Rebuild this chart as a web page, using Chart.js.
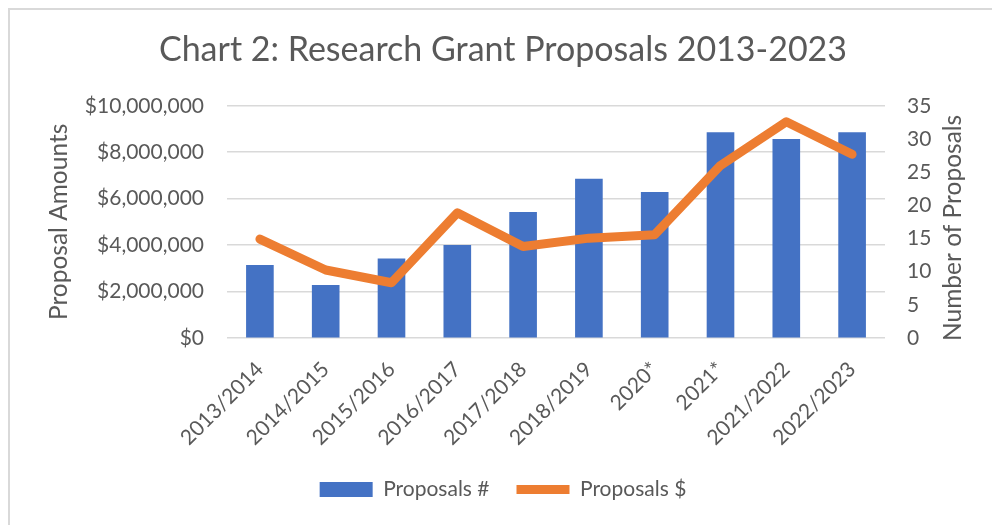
<!DOCTYPE html>
<html>
<head>
<meta charset="utf-8">
<script src="https://cdn.jsdelivr.net/npm/chart.js@4"></script>
<style>
  html, body { margin: 0; padding: 0; background: #ffffff; }
  #wrap { position: relative; width: 992px; height: 525px; overflow: hidden; }
  #frame { position: absolute; left: 8px; top: 8px; width: 1100px; height: 600px;
           border-left: 2px solid #d9d9d9; border-top: 2px solid #d9d9d9; }
  canvas { position: absolute; left: 0; top: 0; }
</style>
</head>
<body>
<div id="wrap">
  <div id="frame"></div>
  <canvas id="c" width="992" height="525"></canvas>
</div>
<script>
const categories = ["2013/2014", "2014/2015", "2015/2016", "2016/2017", "2017/2018", "2018/2019", "2020*", "2021*", "2021/2022", "2022/2023"];
const proposalCounts = [11, 8, 12, 14, 19, 24, 22, 31, 30, 31];
const proposalAmounts = [4260000, 2930000, 2380000, 5390000, 3940000, 4300000, 4450000, 7430000, 9310000, 7910000];
const chartTitle = "Chart 2: Research Grant Proposals 2013-2023";
const leftAxisTitle = "Proposal Amounts";
const rightAxisTitle = "Number of Proposals";

const TXT = '#595959';
const FONT = 'Lato';

// Right axis title reads bottom-to-top, like the left one
const rightTitlePlugin = {
  id: 'rightTitle',
  afterDraw(chart) {
    const ctx = chart.ctx;
    const s = chart.scales.yR;
    ctx.save();
    ctx.fillStyle = TXT;
    ctx.font = '24.5px ' + FONT;
    ctx.textAlign = 'center';
    ctx.textBaseline = 'middle';
    ctx.translate(s.right - 13, (s.top + s.bottom) / 2 + 6);
    ctx.rotate(-Math.PI / 2);
    ctx.fillText(rightAxisTitle, 0, 0);
    ctx.restore();
  }
};

new Chart(document.getElementById('c'), {
  data: {
    labels: categories,
    datasets: [
      {
        type: 'bar',
        label: 'Proposals #',
        data: proposalCounts,
        yAxisID: 'yR',
        backgroundColor: '#4472C4',
        borderWidth: 0,
        barPercentage: 0.42,
        categoryPercentage: 1.0,
        order: 1,
        pointStyle: 'rect'
      },
      {
        type: 'line',
        label: 'Proposals $',
        data: proposalAmounts,
        yAxisID: 'yL',
        borderColor: '#ED7D31',
        backgroundColor: '#ED7D31',
        borderWidth: 9,
        borderCapStyle: 'round',
        borderJoinStyle: 'round',
        pointRadius: 0,
        pointHoverRadius: 0,
        tension: 0,
        fill: false,
        order: 0,
        pointStyle: 'line'
      }
    ]
  },
  plugins: [rightTitlePlugin],
  options: {
    responsive: false,
    animation: false,
    devicePixelRatio: 1,
    layout: { padding: { left: 40, right: 26, top: 0, bottom: 15 } },
    plugins: {
      tooltip: { enabled: false },
      title: {
        display: true,
        text: chartTitle,
        color: TXT,
        font: { family: FONT, size: 34, weight: 'normal' },
        padding: { top: 29.5, bottom: 35.5 }
      },
      legend: {
        position: 'bottom',
        labels: {
          color: TXT,
          font: { family: FONT, size: 21 },
          usePointStyle: true,
          pointStyleWidth: 53,
          boxHeight: 15,
          padding: 27,
          sort: (a, b) => a.datasetIndex - b.datasetIndex
        }
      }
    },
    scales: {
      x: {
        grid: { display: false },
        border: { display: false },
        ticks: {
          color: TXT,
          font: { family: FONT, size: 21 },
          minRotation: 45,
          maxRotation: 45,
          padding: 11,
          labelOffset: 0
        },
        afterFit: s => { s.height = 114; }
      },
      yL: {
        position: 'left',
        min: 0,
        max: 10000000,
        ticks: {
          stepSize: 2000000,
          color: TXT,
          font: { family: FONT, size: 21 },
          padding: 23,
          callback: v => '$' + Number(v).toLocaleString('en-US')
        },
        grid: { color: '#d9d9d9', lineWidth: 1.5, drawTicks: false },
        border: { display: false },
        title: {
          display: true,
          text: leftAxisTitle,
          color: TXT,
          font: { family: FONT, size: 24.5 },
          padding: { top: 4, bottom: 0 }
        },
        afterFit: s => { s.width = 187; }
      },
      yR: {
        position: 'right',
        min: 0,
        max: 35,
        ticks: {
          stepSize: 5,
          color: TXT,
          font: { family: FONT, size: 21 },
          padding: 22
        },
        grid: { drawOnChartArea: false, drawTicks: false },
        border: { display: false },
        afterFit: s => { s.width = 81; }
      }
    }
  }
});
</script>
</body>
</html>
